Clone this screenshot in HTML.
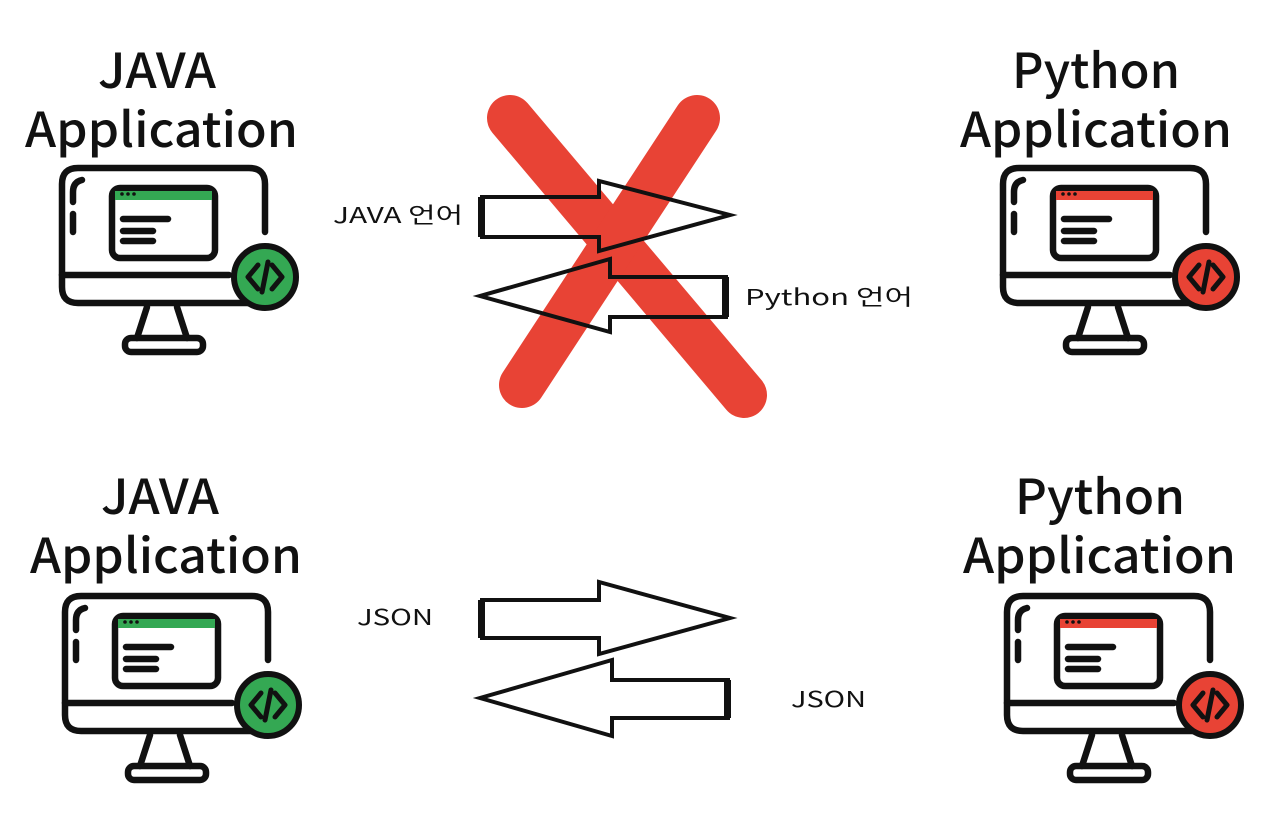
<!DOCTYPE html>
<html><head><meta charset="utf-8"><style>
html,body{margin:0;padding:0;background:#fff;}
svg{display:block;}
.t{font-family:"Noto Sans CJK KR","Liberation Sans",sans-serif;font-weight:500;font-size:48px;fill:#111;}
.l{font-family:"Noto Sans CJK KR","Liberation Sans",sans-serif;font-size:22px;fill:#111;}
</style></head><body>
<svg width="1272" height="818" viewBox="0 0 1272 818" xmlns="http://www.w3.org/2000/svg">
<defs>
<g id="mon" fill="none" stroke="#111" stroke-width="6.5" stroke-linecap="round" stroke-linejoin="round">
  <path d="M203,64 L203,16 Q203,0 187,0 L16,0 Q0,0 0,16 L0,119 Q0,135 16,135 L188,135"/>
  <line x1="0" y1="107" x2="167" y2="107"/>
  <path d="M11,34 L11,24 Q11,14 20,12"/>
  <line x1="11" y1="46" x2="11" y2="64"/>
  <rect x="50" y="20" width="103" height="70" rx="8"/>
  <line x1="61" y1="51" x2="106" y2="51"/>
  <line x1="61" y1="63" x2="91" y2="63"/>
  <line x1="61" y1="73" x2="91" y2="73"/>
  <path d="M85,139 L75,170 M115,139 L125,170"/>
  <rect x="63" y="170" width="78" height="14" rx="6"/>
</g>
</defs>

<g stroke="#e84335" stroke-width="46" stroke-linecap="round">
  <line x1="510" y1="118" x2="744" y2="395"/>
  <line x1="697" y1="118" x2="522" y2="385"/>
</g>

<g transform="translate(62,168)">
  <use href="#mon"/>
  <path d="M53,23 H150 V32 H53 Z" fill="#34a853"/>
  <circle cx="60" cy="26" r="1.8" fill="#111"/><circle cx="66" cy="26" r="1.8" fill="#111"/><circle cx="72" cy="26" r="1.8" fill="#111"/>
  <circle cx="203" cy="109" r="31" fill="#34a853" stroke="#111" stroke-width="6"/>
  <path d="M196,97 L186,109 L196,121 M210,97 L220,109 L210,121 M206,94 L200,124" fill="none" stroke="#111" stroke-width="5" stroke-linecap="round" stroke-linejoin="round"/>
</g>
<g transform="translate(1003,168)">
  <use href="#mon"/>
  <path d="M53,23 H150 V32 H53 Z" fill="#e84335"/>
  <circle cx="60" cy="26" r="1.8" fill="#111"/><circle cx="66" cy="26" r="1.8" fill="#111"/><circle cx="72" cy="26" r="1.8" fill="#111"/>
  <circle cx="203" cy="109" r="31" fill="#e84335" stroke="#111" stroke-width="6"/>
  <path d="M196,97 L186,109 L196,121 M210,97 L220,109 L210,121 M206,94 L200,124" fill="none" stroke="#111" stroke-width="5" stroke-linecap="round" stroke-linejoin="round"/>
</g>
<g transform="translate(65,596)">
  <use href="#mon"/>
  <path d="M53,23 H150 V32 H53 Z" fill="#34a853"/>
  <circle cx="60" cy="26" r="1.8" fill="#111"/><circle cx="66" cy="26" r="1.8" fill="#111"/><circle cx="72" cy="26" r="1.8" fill="#111"/>
  <circle cx="203" cy="109" r="31" fill="#34a853" stroke="#111" stroke-width="6"/>
  <path d="M196,97 L186,109 L196,121 M210,97 L220,109 L210,121 M206,94 L200,124" fill="none" stroke="#111" stroke-width="5" stroke-linecap="round" stroke-linejoin="round"/>
</g>
<g transform="translate(1007,596)">
  <use href="#mon"/>
  <path d="M53,23 H150 V32 H53 Z" fill="#e84335"/>
  <circle cx="60" cy="26" r="1.8" fill="#111"/><circle cx="66" cy="26" r="1.8" fill="#111"/><circle cx="72" cy="26" r="1.8" fill="#111"/>
  <circle cx="203" cy="109" r="31" fill="#e84335" stroke="#111" stroke-width="6"/>
  <path d="M196,97 L186,109 L196,121 M210,97 L220,109 L210,121 M206,94 L200,124" fill="none" stroke="#111" stroke-width="5" stroke-linecap="round" stroke-linejoin="round"/>
</g>

<g fill="none" stroke="#111" stroke-width="4" stroke-linejoin="miter">
  <path d="M482,197 H599 V181 L730,215 L599,251 V237 H482 Z"/>
  <path d="M726,277 H610 V259 L480,296 L610,332 V317 H726 Z"/>
  <path d="M482,600 H599 V582 L730,618 L599,654 V638 H482 Z"/>
  <path d="M728,680 H612 V660 L480,698 L612,736 V718 H728 Z"/>
</g>
<g fill="#111">
  <rect x="478" y="197" width="7" height="40"/>
  <rect x="722" y="277" width="7" height="40"/>
  <rect x="478" y="600" width="7" height="38"/>
  <rect x="724" y="680" width="7" height="38"/>
</g>

<text class="t" x="157" y="88" text-anchor="middle" textLength="118" lengthAdjust="spacingAndGlyphs">JAVA</text>
<text class="t" x="25" y="147" textLength="273" lengthAdjust="spacingAndGlyphs">Application</text>
<text class="t" x="1012" y="88" textLength="168" lengthAdjust="spacingAndGlyphs">Python</text>
<text class="t" x="960" y="147" textLength="272" lengthAdjust="spacingAndGlyphs">Application</text>
<text class="t" x="160" y="514" text-anchor="middle" textLength="118" lengthAdjust="spacingAndGlyphs">JAVA</text>
<text class="t" x="30" y="573" textLength="272" lengthAdjust="spacingAndGlyphs">Application</text>
<text class="t" x="1015" y="514" textLength="170" lengthAdjust="spacingAndGlyphs">Python</text>
<text class="t" x="963" y="573" textLength="273" lengthAdjust="spacingAndGlyphs">Application</text>

<text class="l" x="333" y="223" textLength="130" lengthAdjust="spacingAndGlyphs">JAVA 언어</text>
<text class="l" x="745" y="305" textLength="168" lengthAdjust="spacingAndGlyphs">Python  언어</text>
<text class="l" x="357" y="625" textLength="76" lengthAdjust="spacingAndGlyphs">JSON</text>
<text class="l" x="791" y="707" textLength="75" lengthAdjust="spacingAndGlyphs">JSON</text>
</svg>
</body></html>
